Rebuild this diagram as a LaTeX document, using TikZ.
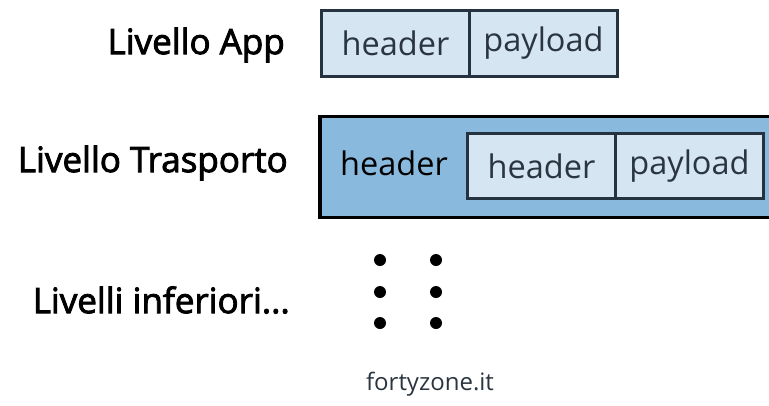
\documentclass[tikz,border=0pt]{standalone}
\usepackage{fontspec}
\setmainfont{Open Sans}
\newfontfamily\labfont[FakeBold=2.5]{Open Sans}
\definecolor{lightb}{HTML}{D5E5F2}
\definecolor{midb}{HTML}{89B9DC}
\definecolor{edgec}{HTML}{24333F}
\definecolor{txtc}{HTML}{2A3540}
\begin{document}
\begin{tikzpicture}[x=1pt,y=-1pt,
  lab/.style={anchor=east,inner sep=0pt,font=\labfont\fontsize{35}{35}\selectfont,text=black},
  cell/.style={draw=edgec,line width=3pt,fill=lightb,inner sep=0pt,anchor=north west},
  ctext/.style={inner sep=0pt,font=\fontsize{32.5}{32.5}\selectfont,text=txtc},
  dotc/.style={circle,fill=black,inner sep=0pt,minimum size=12pt}]
\useasboundingbox (0,0) rectangle (769,405);
\begin{scope}
\clip (0,0) rectangle (769,405);
% App layer
\node[lab] (lapp) at (285,45) {Livello App};
\node[cell,minimum width=148pt,minimum height=66pt] (ah) at (320,9) {};
\node[cell,minimum width=148pt,minimum height=66pt] (ap) at (468,9) {};
\node[ctext] (aht) at (ah.center) {header};
\node[ctext] (apt) at (ap.center) {payload};
% Transport layer
\node[lab] (ltr) at (288,163) {Livello Trasporto};
\node[draw=black,line width=3.6pt,fill=midb,inner sep=0pt,anchor=north west,minimum width=470pt,minimum height=101pt] (tbox) at (318,114.5) {};
\node[ctext,text=black] (tht) at (394,163) {header};
\node[cell,minimum width=148pt,minimum height=65pt] (ih) at (466,132) {};
\node[cell,minimum width=148pt,minimum height=65pt] (ip) at (614,132) {};
\node[ctext] (iht) at (ih.center) {header};
\node[ctext] (ipt) at (ip.center) {payload};
% Lower layers
\node[lab] (linf) at (290,300) {Livelli inferiori...};
\node[dotc] (d1) at (380,260) {};
\node[dotc] (d2) at (380,292) {};
\node[dotc] (d3) at (380,323) {};
\node[dotc] (d4) at (436,260) {};
\node[dotc] (d5) at (436,292) {};
\node[dotc] (d6) at (436,323) {};
\node[inner sep=0pt,font=\fontsize{24}{24}\selectfont,text=txtc] (wm) at (430,384) {fortyzone.it};
\end{scope}
\end{tikzpicture}
\end{document}
